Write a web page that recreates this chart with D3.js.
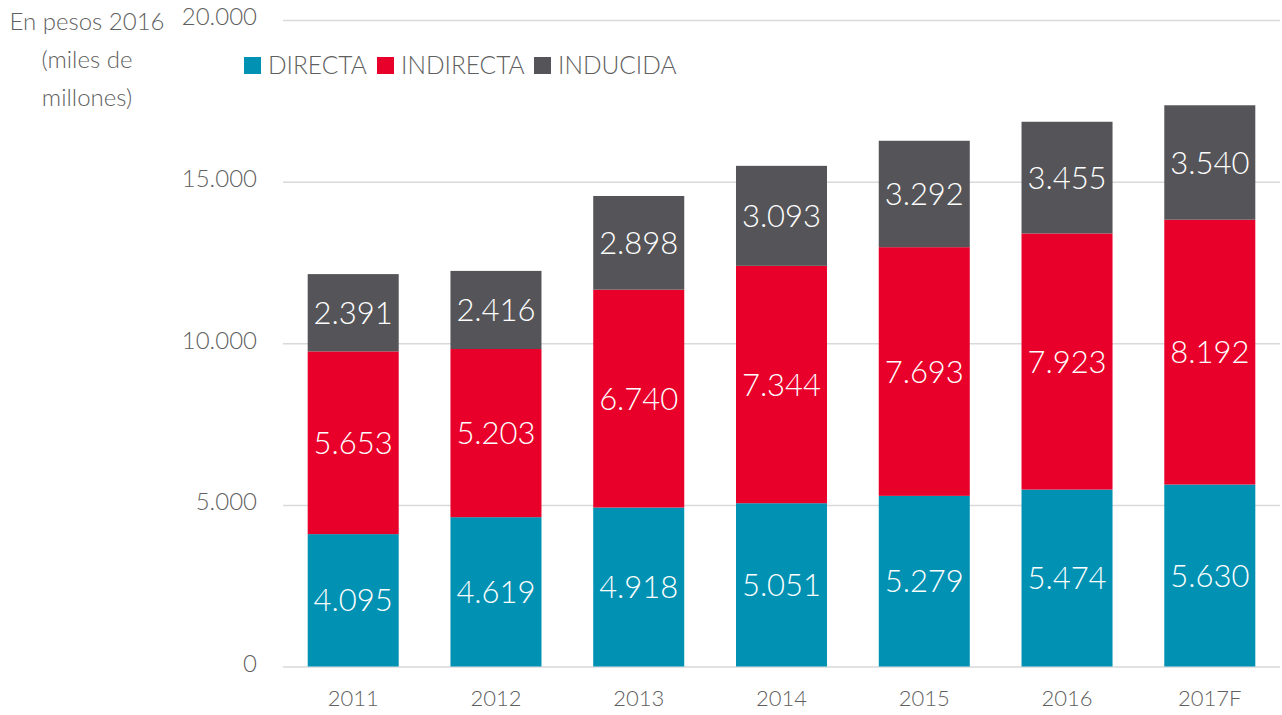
<!DOCTYPE html>
<html>
<head>
<meta charset="utf-8">
<script src="https://cdn.jsdelivr.net/npm/d3@7"></script>
<style>
  body { margin: 0; background: #fff; }
  svg text { font-family: Lato, "Open Sans", sans-serif; font-weight: 300; }
</style>
</head>
<body>
<svg id="chart" width="1282" height="715"></svg>
<script>
// Data (miles de millones, pesos 2016)
const years = ['2011', '2012', '2013', '2014', '2015', '2016', '2017F'];
const directa = [4095, 4619, 4918, 5051, 5279, 5474, 5630];
const indirecta = [5653, 5203, 6740, 7344, 7693, 7923, 8192];
const inducida = [2391, 2416, 2898, 3093, 3292, 3455, 3540];
const seriesNames = ['DIRECTA', 'INDIRECTA', 'INDUCIDA'];
const yTicks = [0, 5000, 10000, 15000, 20000];

const colors = ['#0091b3', '#e8002a', '#555559'];
const fmt = d => d3.format(',')(d).replace(/,/g, '.');

const svg = d3.select('#chart');
const m = { left: 283, right: 1280, top: 20, bottom: 666.5 };

const rows = years.map((yr, i) => ({ year: yr, DIRECTA: directa[i], INDIRECTA: indirecta[i], INDUCIDA: inducida[i] }));
const stack = d3.stack().keys(seriesNames)(rows);

const x = d3.scaleBand().domain(years).range([m.left, m.right]).paddingInner(0.3625).paddingOuter(0.173);
const y = d3.scaleLinear().domain([0, 20000]).range([m.bottom, m.top]);

// grid
svg.append('g')
  .attr('transform', `translate(${m.left},0)`)
  .call(d3.axisLeft(y).tickValues(yTicks).tickSize(-(m.right - m.left)).tickFormat(''))
  .call(g => g.select('.domain').remove())
  .selectAll('line').attr('stroke', '#d9d9d9').attr('stroke-width', 1.5);

// y tick labels
svg.append('g')
  .attr('transform', `translate(257,0)`)
  .call(d3.axisLeft(y).tickValues(yTicks).tickSize(0).tickPadding(0).tickFormat(fmt))
  .call(g => g.select('.domain').remove())
  .selectAll('text').attr('fill', '#5f5f5f').style('font-size', '24px').attr('dy', '0.2em');

// bars
const layers = svg.append('g').selectAll('g').data(stack).join('g')
  .attr('fill', (d, i) => colors[i]);

layers.selectAll('rect').data(d => d).join('rect')
  .attr('x', d => x(d.data.year))
  .attr('width', x.bandwidth())
  .attr('y', d => y(d[1]))
  .attr('height', d => y(d[0]) - y(d[1]));

layers.selectAll('text').data(d => d).join('text')
  .attr('x', d => x(d.data.year) + x.bandwidth() / 2)
  .attr('y', d => (y(d[0]) + y(d[1])) / 2)
  .attr('dy', '0.36em')
  .attr('text-anchor', 'middle')
  .attr('fill', '#fff')
  .style('font-size', '31px')
  .text(d => fmt(d[1] - d[0]));

// x axis labels
svg.append('g')
  .attr('transform', `translate(0,${m.bottom})`)
  .call(d3.axisBottom(x).tickSize(0).tickPadding(24))
  .call(g => g.select('.domain').remove())
  .selectAll('text').attr('fill', '#5f5f5f').style('font-size', '22px');

// legend
const legendX = [244, 377, 534];
const legend = svg.append('g').selectAll('g').data(seriesNames).join('g')
  .attr('transform', (d, i) => `translate(${legendX[i]},57)`);
legend.append('rect').attr('width', 17).attr('height', 17).attr('fill', (d, i) => colors[i]);
legend.append('text').attr('x', 24).attr('y', 8.5).attr('dy', '0.36em')
  .attr('fill', '#5f5f5f').style('font-size', '24.5px').text(d => d);

// axis title
const title = ['En pesos 2016', '(miles de', 'millones)'];
svg.append('g').selectAll('text').data(title).join('text')
  .attr('x', 87).attr('y', (d, i) => 30 + i * 38)
  .attr('text-anchor', 'middle')
  .attr('fill', '#5f5f5f').style('font-size', '24px')
  .text(d => d);
</script>
</body>
</html>
